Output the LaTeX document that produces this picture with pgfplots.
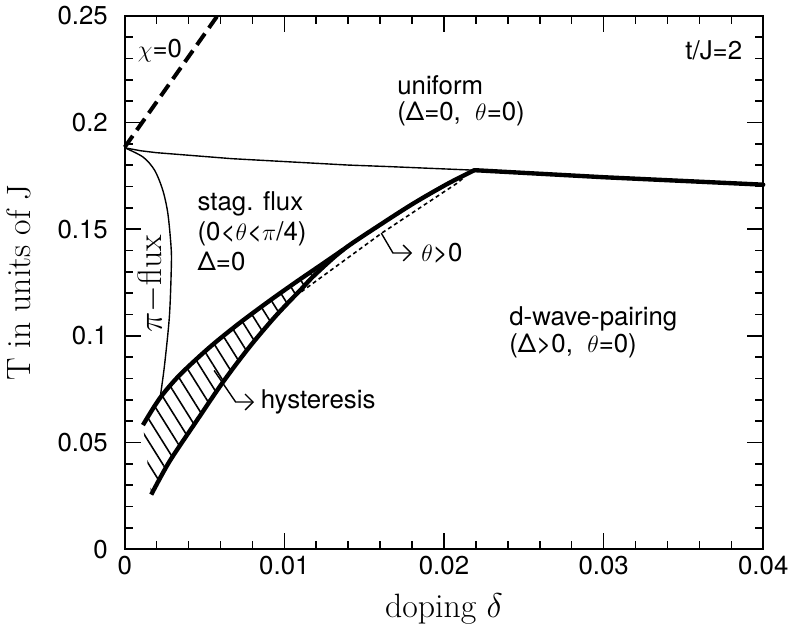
\documentclass[border=0pt]{standalone}
\usepackage{fontspec}
\setsansfont{TeX Gyre Heros}
\usepackage{pgfplots}
\pgfplotsset{compat=1.18}
\usepgfplotslibrary{fillbetween}
\usetikzlibrary{patterns.meta,arrows.meta}
\newcommand\ann{\sffamily\fontsize{13}{15}\selectfont}

\begin{document}
\begin{tikzpicture}
\begin{axis}[
    scale only axis, width=321.5pt, height=268.5pt,
    xmin=0, xmax=0.04, ymin=0, ymax=0.25,
    xtick={0,0.01,0.02,0.03,0.04},
    ytick={0,0.05,0.1,0.15,0.2,0.25},
    minor x tick num=4, minor y tick num=4,
    major tick length=8pt, minor tick length=4pt,
    tick style={line width=0.8pt, black},
    axis line style={line width=1pt},
    scaled ticks=false,
    xticklabel style={/pgf/number format/fixed, /pgf/number format/precision=2},
    yticklabel style={/pgf/number format/fixed, /pgf/number format/precision=2, xshift=-5pt},
    ticklabel style={font=\sffamily\fontsize{13}{13}\selectfont},
    /pgf/number format/assume math mode=true,
    xlabel={doping $\delta$}, ylabel={T in units of J},
    every axis x label/.style={at={(axis description cs:0.5,-0.112)}, anchor=center,
        font=\fontsize{17}{17}\selectfont},
    every axis y label/.style={at={(axis description cs:-0.166,0.5)}, rotate=90, anchor=center,
        font=\fontsize{17}{17}\selectfont},
    clip=false,
]
% uniform boundary (thin part) and d-wave boundary (thick part)
\addplot[line width=0.7pt] coordinates {(0,0.1882)(0.001,0.1868)(0.002,0.1859)(0.0067,0.1831)(0.014,0.1801)(0.0165,0.1794)(0.0219,0.1777)};
\addplot[line width=2.2pt, line cap=round] coordinates {(0.0219,0.1777)(0.03,0.1744)(0.04,0.1709)};
% chi=0
\addplot[line width=2pt, dash pattern=on 7pt off 3.5pt] coordinates {(0,0.1885)(0.0058,0.25)};
% pi-flux
\addplot[line width=0.7pt, smooth] coordinates {(0,0.1882)(0.00114,0.1839)(0.00187,0.1777)(0.00238,0.1684)(0.0027,0.1575)(0.0029,0.142)(0.00292,0.1327)(0.0028,0.1094)(0.00249,0.0861)(0.00222,0.0712)};
% hysteresis region
\addplot[draw=none, name path=hup] coordinates {(0.00114,0.0582)(0.00218,0.0706)(0.00342,0.0815)(0.00529,0.0945)(0.00715,0.1058)(0.00902,0.1162)(0.01068,0.1250)(0.01234,0.1335)(0.0137,0.1405)};
\addplot[draw=none, name path=hlo] coordinates {(0.00166,0.0256)(0.0028,0.0411)(0.00446,0.0597)(0.00612,0.0780)(0.00778,0.0945)(0.00944,0.1092)(0.01109,0.1222)(0.01192,0.1287)(0.0137,0.1405)};
\addplot[pattern={Lines[angle=-58,distance=6pt,line width=0.8pt]}, pattern color=black, draw=none] fill between[of=hup and hlo];
\addplot[line width=2.2pt, smooth] coordinates {(0.00114,0.0582)(0.00218,0.0706)(0.00342,0.0815)(0.00529,0.0945)(0.00715,0.1058)(0.00902,0.1162)(0.01068,0.1250)(0.01234,0.1335)(0.0137,0.1405)};
\addplot[line width=2.2pt, smooth] coordinates {(0.00166,0.0256)(0.0028,0.0411)(0.00446,0.0597)(0.00612,0.0780)(0.00778,0.0945)(0.00944,0.1092)(0.01109,0.1222)(0.01192,0.1287)(0.0137,0.1405)(0.0161,0.1526)(0.01815,0.1624)(0.02022,0.1713)(0.0219,0.1777)};
% theta>0 boundary
\addplot[line width=0.8pt, dash pattern=on 2pt off 1.6pt] coordinates {(0.0107,0.1187)(0.0161,0.1482)(0.0208,0.1715)(0.0213,0.1746)};
% annotations
\draw[line width=0.7pt, -{Straight Barb[length=4pt]}] (axis cs:0.0056,0.0838) -- (axis cs:0.00695,0.069) -- (axis cs:0.0081,0.069);
\draw[line width=0.7pt, -{Straight Barb[length=4pt]}] (axis cs:0.01607,0.1482) -- (axis cs:0.0168,0.1389) -- (axis cs:0.0180,0.1389);
\begin{scope}[every node/.style={inner sep=0pt, font=\ann}]
\node[anchor=west] at (axis cs:0.0008,0.2337) {$\chi$=0};
\node[anchor=east] at (axis cs:0.0387,0.2337) {t/J=2};
\node[anchor=west] at (axis cs:0.01705,0.2174) {uniform};
\node[anchor=west] at (axis cs:0.01705,0.2039) {(Δ=0,\ \ $\theta$=0)};
\node[anchor=west] at (axis cs:0.00454,0.162) {stag. flux};
\node[anchor=west] at (axis cs:0.00454,0.148) {(0<$\theta$<$\pi$/4)};
\node[anchor=west] at (axis cs:0.00454,0.135) {Δ=0};
\node[anchor=west] at (axis cs:0.02407,0.108) {d-wave-pairing};
\node[anchor=west] at (axis cs:0.02407,0.0954) {(Δ>0,\ \ $\theta$=0)};
\node[anchor=west] at (axis cs:0.0085,0.069) {hysteresis};
\node[anchor=west] at (axis cs:0.01856,0.1389) {$\theta$>0};
\end{scope}
\node[rotate=90, inner sep=0pt, font=\rmfamily\fontsize{17}{17}\selectfont] at (axis cs:0.00168,0.1243) {$\pi-$flux};
\end{axis}
\end{tikzpicture}
\end{document}
